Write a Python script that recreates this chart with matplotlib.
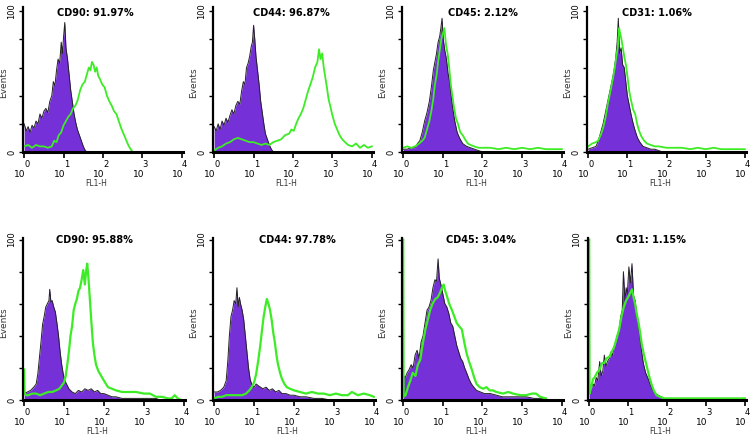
import numpy as np
import matplotlib.pyplot as plt

# flow cytometry overlays: isotype control (purple fill) vs marker (green line)
# x values are FL1-H in decades (10^0 .. 10^4), y values are events (0-100 scale)

titles = ["CD90: 91.97%", "CD44: 96.87%", "CD45: 2.12%", "CD31: 1.06%",
          "CD90: 95.88%", "CD44: 97.78%", "CD45: 3.04%", "CD31: 1.15%"]

# --- top row ---
cd90_a_iso_x = [0.00, 0.05, 0.10, 0.15, 0.20, 0.25, 0.30, 0.35, 0.40, 0.45, 0.50, 0.55, 0.60, 0.65, 0.70, 0.74, 0.78,
                0.82, 0.86, 0.90, 0.94, 0.97, 1.00, 1.03, 1.06, 1.10, 1.14, 1.18, 1.22, 1.26, 1.30, 1.35, 1.40, 1.45,
                1.50, 1.55, 1.60]
cd90_a_iso_y = [20, 15, 18, 14, 19, 17, 22, 20, 27, 24, 29, 31, 28, 36, 40, 50, 47,
                58, 66, 63, 78, 70, 82, 92, 74, 66, 55, 44, 36, 28, 22, 16, 12, 8,
                4, 1, 0]
cd90_a_pos_x = [0.00, 0.10, 0.20, 0.30, 0.40, 0.50, 0.60, 0.70, 0.76, 0.82, 0.88, 0.94, 1.00, 1.06, 1.12, 1.18, 1.24,
                1.30, 1.36, 1.42, 1.48, 1.54, 1.60, 1.64, 1.68, 1.72, 1.76, 1.80, 1.84, 1.88, 1.92, 1.98, 2.04, 2.10,
                2.16, 2.22, 2.28, 2.34, 2.40, 2.46, 2.52, 2.58, 2.64, 2.70, 2.76]
cd90_a_pos_y = [4, 5, 3, 5, 4, 4, 3, 4, 8, 7, 12, 14, 19, 22, 25, 27, 31,
                33, 37, 44, 48, 50, 56, 60, 58, 64, 62, 57, 60, 54, 52, 48, 46, 40,
                36, 33, 29, 27, 22, 17, 13, 9, 5, 2, 0]

cd44_a_iso_x = [0.00, 0.05, 0.10, 0.15, 0.20, 0.25, 0.30, 0.35, 0.40, 0.45, 0.50, 0.55, 0.60, 0.65, 0.70, 0.74, 0.78,
                0.82, 0.86, 0.90, 0.94, 0.97, 1.00, 1.03, 1.06, 1.10, 1.14, 1.18, 1.22, 1.26, 1.30, 1.35, 1.40, 1.45,
                1.50]
cd44_a_iso_y = [18, 15, 20, 16, 22, 19, 24, 21, 26, 30, 27, 33, 36, 34, 44, 50, 48,
                60, 63, 68, 75, 78, 90, 80, 68, 58, 48, 36, 28, 20, 13, 9, 5, 2,
                0]
cd44_a_pos_x = [0.00, 0.10, 0.20, 0.30, 0.40, 0.50, 0.60, 0.70, 0.80, 0.90, 1.00, 1.10, 1.20, 1.30, 1.40, 1.50, 1.60,
                1.70, 1.80, 1.90, 1.96, 2.02, 2.08, 2.14, 2.20, 2.26, 2.32, 2.38, 2.44, 2.50, 2.56, 2.62, 2.66, 2.70,
                2.74, 2.78, 2.82, 2.86, 2.90, 2.95, 3.00, 3.06, 3.12, 3.18, 3.25, 3.32, 3.40, 3.50, 3.60, 3.70, 3.80,
                3.90, 4.00]
cd44_a_pos_y = [1, 3, 4, 6, 7, 9, 10, 9, 8, 7, 7, 6, 5, 6, 5, 7, 8,
                9, 12, 13, 16, 15, 20, 24, 27, 31, 37, 43, 48, 53, 60, 64, 73, 66,
                70, 60, 53, 46, 38, 32, 26, 20, 16, 12, 9, 7, 5, 4, 6, 3, 5,
                3, 4]

cd45_a_iso_x = [0.00, 0.10, 0.20, 0.30, 0.36, 0.42, 0.48, 0.54, 0.60, 0.66, 0.71, 0.76, 0.80, 0.84, 0.88, 0.92, 0.95,
                0.98, 1.01, 1.05, 1.09, 1.13, 1.17, 1.21, 1.25, 1.30, 1.36, 1.42, 1.50, 1.60, 1.70, 1.80, 1.90, 2.00]
cd45_a_iso_y = [2, 2, 3, 3, 6, 8, 14, 22, 28, 36, 46, 58, 64, 70, 78, 82, 88,
                95, 80, 72, 66, 56, 50, 40, 31, 22, 14, 10, 6, 4, 3, 2, 1, 0]
cd45_a_pos_x = [0.00, 0.10, 0.20, 0.30, 0.40, 0.48, 0.54, 0.60, 0.66, 0.71, 0.76, 0.80, 0.84, 0.88, 0.92, 0.96, 1.00,
                1.04, 1.08, 1.12, 1.16, 1.20, 1.24, 1.28, 1.33, 1.38, 1.44, 1.50, 1.56, 1.63, 1.70, 1.79, 1.90, 2.00,
                2.20, 2.40, 2.60, 2.80, 3.00, 3.20, 3.40, 3.60, 3.80, 4.00]
cd45_a_pos_y = [3, 4, 3, 4, 6, 8, 10, 16, 22, 29, 38, 48, 54, 64, 72, 80, 84,
                88, 76, 70, 60, 48, 40, 32, 24, 20, 14, 12, 9, 6, 5, 4, 3, 3,
                3, 2, 3, 2, 3, 2, 3, 2, 2, 2]

cd31_a_iso_x = [0.00, 0.10, 0.20, 0.26, 0.32, 0.38, 0.44, 0.50, 0.56, 0.62, 0.66, 0.70, 0.74, 0.77, 0.80, 0.84, 0.88,
                0.92, 0.96, 1.00, 1.05, 1.10, 1.15, 1.20, 1.26, 1.32, 1.40, 1.50, 1.60, 1.70, 1.80, 1.90]
cd31_a_iso_y = [2, 3, 4, 8, 14, 20, 28, 36, 44, 52, 58, 66, 78, 95, 70, 74, 62,
                60, 50, 40, 33, 26, 20, 15, 10, 7, 4, 3, 2, 2, 1, 0]
cd31_a_pos_x = [0.00, 0.10, 0.20, 0.25, 0.32, 0.38, 0.44, 0.50, 0.56, 0.63, 0.68, 0.72, 0.76, 0.79, 0.82, 0.85, 0.88,
                0.92, 0.97, 1.01, 1.05, 1.10, 1.15, 1.20, 1.25, 1.30, 1.36, 1.43, 1.50, 1.60, 1.70, 1.80, 2.00, 2.20,
                2.40, 2.60, 2.80, 3.00, 3.20, 3.40, 3.60, 3.80, 4.00]
cd31_a_pos_y = [4, 6, 7, 8, 12, 17, 24, 34, 42, 52, 60, 68, 75, 88, 84, 80, 75,
                68, 61, 52, 43, 36, 30, 27, 20, 15, 11, 8, 6, 5, 4, 4, 3, 3,
                3, 2, 3, 2, 3, 2, 2, 2, 2]

# --- bottom row ---
cd90_b_iso_x = [0.00, 0.08, 0.16, 0.24, 0.30, 0.34, 0.38, 0.42, 0.46, 0.50, 0.54, 0.58, 0.62, 0.64, 0.67, 0.70, 0.74,
                0.78, 0.82, 0.86, 0.90, 0.94, 0.98, 1.02, 1.06, 1.12, 1.20, 1.28, 1.36, 1.44, 1.52, 1.60, 1.68, 1.76,
                1.84, 1.92, 2.00, 2.10, 2.20, 2.30, 2.45, 2.70, 3.00, 3.30, 3.40]
cd90_b_iso_y = [4, 5, 6, 8, 10, 16, 26, 36, 47, 52, 58, 60, 62, 69, 61, 62, 58,
                55, 48, 40, 30, 22, 16, 12, 10, 7, 5, 4, 6, 5, 7, 6, 7, 5,
                6, 4, 4, 3, 2, 2, 1, 1, 1, 1, 0]
cd90_b_pos_x = [0.00, 0.01, 0.05, 0.10, 0.20, 0.30, 0.40, 0.50, 0.60, 0.70, 0.80, 0.88, 0.94, 1.00, 1.04, 1.08, 1.12,
                1.16, 1.20, 1.24, 1.28, 1.32, 1.36, 1.40, 1.44, 1.48, 1.52, 1.55, 1.58, 1.61, 1.64, 1.68, 1.72, 1.76,
                1.80, 1.86, 1.93, 2.00, 2.10, 2.20, 2.30, 2.45, 2.60, 2.80, 3.00, 3.15, 3.30, 3.45, 3.60, 3.70, 3.77,
                3.85, 3.93]
cd90_b_pos_y = [19, 4, 3, 3, 4, 4, 3, 4, 5, 5, 6, 7, 9, 11, 15, 22, 30,
                40, 46, 56, 60, 63, 68, 70, 75, 81, 72, 80, 85, 76, 65, 50, 36, 28,
                22, 18, 15, 12, 8, 7, 6, 5, 5, 5, 4, 4, 2, 2, 1, 1, 3,
                1, 0]

cd44_b_iso_x = [0.00, 0.08, 0.16, 0.24, 0.30, 0.34, 0.38, 0.42, 0.46, 0.50, 0.54, 0.57, 0.60, 0.63, 0.66, 0.70, 0.74,
                0.78, 0.82, 0.86, 0.90, 0.95, 1.00, 1.05, 1.10, 1.16, 1.22, 1.30, 1.38, 1.46, 1.54, 1.62, 1.70, 1.80,
                1.90, 2.00, 2.15, 2.30, 2.50, 2.70, 2.90]
cd44_b_iso_y = [5, 5, 6, 8, 12, 24, 40, 52, 56, 62, 60, 70, 58, 64, 60, 56, 50,
                40, 30, 20, 13, 9, 8, 10, 9, 8, 7, 8, 6, 7, 5, 6, 4, 4,
                3, 3, 2, 2, 1, 1, 0]
cd44_b_pos_x = [0.00, 0.10, 0.20, 0.30, 0.40, 0.50, 0.60, 0.70, 0.80, 0.88, 0.94, 1.00, 1.05, 1.10, 1.15, 1.20, 1.24,
                1.28, 1.32, 1.36, 1.40, 1.44, 1.48, 1.52, 1.56, 1.60, 1.65, 1.70, 1.76, 1.82, 1.90, 2.00, 2.15, 2.30,
                2.45, 2.60, 2.75, 2.90, 3.05, 3.20, 3.35, 3.45, 3.60, 3.75, 3.90, 4.00]
cd44_b_pos_y = [1, 2, 2, 3, 3, 3, 3, 3, 4, 6, 8, 11, 16, 24, 33, 44, 52,
                58, 63, 60, 56, 50, 42, 36, 28, 22, 17, 13, 10, 8, 7, 6, 5, 4,
                5, 4, 4, 3, 4, 3, 3, 5, 3, 4, 3, 2]

cd45_b_iso_x = [0.00, 0.05, 0.10, 0.15, 0.20, 0.25, 0.30, 0.35, 0.40, 0.45, 0.50, 0.55, 0.60, 0.65, 0.70, 0.75, 0.80,
                0.84, 0.88, 0.91, 0.95, 1.00, 1.05, 1.10, 1.15, 1.20, 1.25, 1.30, 1.35, 1.40, 1.45, 1.50, 1.55, 1.60,
                1.66, 1.72, 1.78, 1.85, 1.95, 2.05, 2.20, 2.35, 2.50, 2.70, 2.90, 3.10, 3.30, 3.50, 3.65]
cd45_b_iso_y = [15, 14, 17, 19, 22, 20, 28, 31, 26, 36, 40, 48, 56, 58, 62, 70, 75,
                74, 88, 76, 72, 66, 60, 58, 54, 48, 46, 40, 34, 30, 26, 24, 20, 17,
                13, 10, 8, 6, 5, 4, 4, 3, 2, 2, 2, 2, 1, 1, 0]
cd45_b_pos_x = [0.00, 0.01, 0.06, 0.12, 0.18, 0.24, 0.31, 0.37, 0.43, 0.50, 0.56, 0.62, 0.68, 0.74, 0.81, 0.87, 0.93,
                0.98, 1.02, 1.06, 1.10, 1.16, 1.23, 1.29, 1.35, 1.41, 1.48, 1.54, 1.60, 1.66, 1.73, 1.79, 1.85, 1.93,
                2.02, 2.10, 2.18, 2.26, 2.35, 2.52, 2.65, 2.77, 2.95, 3.10, 3.25, 3.35, 3.45, 3.60]
cd45_b_pos_y = [100, 2, 3, 8, 12, 17, 15, 22, 25, 36, 44, 50, 56, 60, 63, 64, 67,
                70, 72, 68, 65, 60, 56, 52, 48, 46, 44, 36, 29, 24, 19, 14, 10, 8,
                7, 8, 6, 6, 5, 4, 5, 4, 3, 3, 4, 4, 2, 1]

cd31_b_iso_x = [0.00, 0.05, 0.10, 0.14, 0.18, 0.22, 0.27, 0.31, 0.35, 0.39, 0.43, 0.47, 0.52, 0.56, 0.60, 0.64, 0.68,
                0.72, 0.77, 0.81, 0.85, 0.88, 0.92, 0.95, 0.98, 1.02, 1.06, 1.10, 1.14, 1.18, 1.23, 1.27, 1.31, 1.35,
                1.39, 1.45, 1.52, 1.58, 1.64, 1.70, 1.77, 1.85, 1.93, 2.00]
cd31_b_iso_y = [5, 7, 10, 9, 14, 12, 24, 15, 18, 28, 21, 24, 26, 30, 28, 33, 36,
                40, 44, 52, 56, 80, 62, 70, 66, 83, 73, 85, 65, 62, 52, 46, 38, 30,
                23, 17, 13, 9, 6, 4, 3, 2, 1, 0]
cd31_b_pos_x = [0.00, 0.01, 0.05, 0.10, 0.14, 0.20, 0.27, 0.33, 0.39, 0.45, 0.52, 0.58, 0.64, 0.70, 0.77, 0.83, 0.89,
                0.95, 1.02, 1.06, 1.10, 1.14, 1.18, 1.22, 1.27, 1.31, 1.35, 1.41, 1.48, 1.54, 1.60, 1.66, 1.73, 1.82,
                1.93, 2.10, 2.40, 2.80, 3.20, 3.60, 4.00]
cd31_b_pos_y = [100, 4, 8, 13, 14, 17, 19, 23, 23, 26, 27, 30, 33, 38, 44, 52, 58,
                62, 65, 67, 69, 64, 60, 54, 48, 42, 35, 28, 21, 15, 10, 6, 3, 2,
                1, 1, 1, 1, 1, 1, 1]

iso_curves = [(cd90_a_iso_x, cd90_a_iso_y), (cd44_a_iso_x, cd44_a_iso_y),
              (cd45_a_iso_x, cd45_a_iso_y), (cd31_a_iso_x, cd31_a_iso_y),
              (cd90_b_iso_x, cd90_b_iso_y), (cd44_b_iso_x, cd44_b_iso_y),
              (cd45_b_iso_x, cd45_b_iso_y), (cd31_b_iso_x, cd31_b_iso_y)]
pos_curves = [(cd90_a_pos_x, cd90_a_pos_y), (cd44_a_pos_x, cd44_a_pos_y),
              (cd45_a_pos_x, cd45_a_pos_y), (cd31_a_pos_x, cd31_a_pos_y),
              (cd90_b_pos_x, cd90_b_pos_y), (cd44_b_pos_x, cd44_b_pos_y),
              (cd45_b_pos_x, cd45_b_pos_y), (cd31_b_pos_x, cd31_b_pos_y)]

decades = [0, 1, 2, 3, 4]

PURPLE = "#7630d8"
GREEN = "#3cec24"
W, H = 752, 442

# axes boxes in pixels: left, top, right, bottom (x-axis line)
boxes = [(23, 7, 183, 152), (213, 7, 373, 152), (402, 7, 563, 152), (587, 7, 746, 152),
         (23, 238, 185, 400), (213, 238, 375, 400), (402, 238, 563, 400), (588, 238, 746, 400)]
title_xfrac = [0.45, 0.49, 0.50, 0.44, 0.44, 0.52, 0.49, 0.40]

fig = plt.figure(figsize=(W / 100, H / 100), dpi=100)

for i, (l, t, r, b) in enumerate(boxes):
    ax = fig.add_axes([l / W, (H - b) / H, (r - l) / W, (b - t) / H])
    top_row = i < 4
    ylim_top = 103 if top_row else 101

    ix, iy = iso_curves[i]
    px, py = pos_curves[i]
    ix = 10 ** np.array(ix)
    px = 10 ** np.array(px)
    ax.fill_between(ix, iy, 0, color=PURPLE, lw=0)
    ax.plot(ix, iy, color="#222222", lw=0.7)
    ax.plot(px, py, color=GREEN, lw=1.3 if top_row else 1.6)

    ax.set_xscale("log")
    ax.set_xlim(10 ** -0.03, 10 ** 4.03)
    ax.set_ylim(0, ylim_top)

    for s in ["top", "right"]:
        ax.spines[s].set_visible(False)
    ax.spines["bottom"].set_linewidth(2.2)
    ax.spines["left"].set_linewidth(1.6)

    ax.set_xticks([10 ** d for d in decades])
    ax.set_xticklabels([])
    ax.tick_params(axis="x", which="major", direction="out", length=4, width=1.2)
    ax.tick_params(axis="x", which="minor", direction="inout", length=4, width=0.8)
    for d in decades:
        ax.annotate(str(d), (10 ** d, 0), xycoords=("data", "axes fraction"),
                    xytext=(2, -9), textcoords="offset points",
                    ha="center", va="center", fontsize=6)
        ax.annotate("10", (10 ** d, 0), xycoords=("data", "axes fraction"),
                    xytext=(-3, -16), textcoords="offset points",
                    ha="center", va="center", fontsize=6.5)
    ax.annotate("FL1-H", (0.46, 0), xycoords="axes fraction",
                xytext=(0, -23), textcoords="offset points",
                ha="center", va="center", fontsize=5.5, color="#333333")

    ax.set_yticks([0, 20, 40, 60, 80, 100])
    ax.set_yticklabels(["0", "", "", "", "", "100"], rotation=90, va="center", fontsize=6)
    ax.tick_params(axis="y", direction="out", length=3, width=1, pad=2)
    ax.set_ylabel("Events", fontsize=6.5, color="#333333")
    ax.yaxis.set_label_coords(-15 / (r - l), 0.48)

    ax.text(title_xfrac[i], 0.96 if top_row else 0.99, titles[i], transform=ax.transAxes,
            ha="center", va="center", fontsize=7, fontweight="bold")
    ax.patch.set_alpha(0)

fig.savefig("out.png", dpi=100)
